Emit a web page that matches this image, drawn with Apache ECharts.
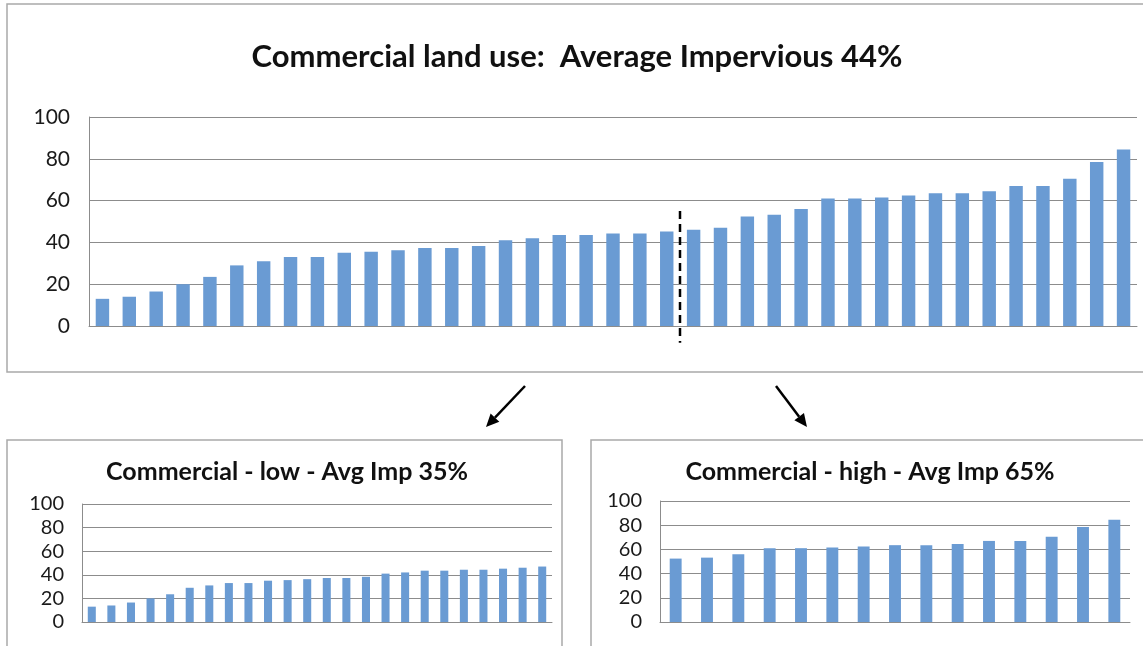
<!DOCTYPE html>
<html>
<head>
<meta charset="utf-8">
<script src="https://cdn.jsdelivr.net/npm/echarts@6/dist/echarts.min.js"></script>
<style>
  html, body { margin: 0; padding: 0; background: #fff; }
  #chart { width: 1143px; height: 646px; }
</style>
</head>
<body>
<div id="chart"></div>
<script>
// Percent impervious for each commercial site, sorted low to high
const sites = [
  13, 14, 16.5, 20, 23.5, 29, 31, 33, 33, 35, 35.5, 36.3,
  37.3, 37.3, 38.3, 41, 42, 43.5, 43.5, 44.3, 44.3, 45.2, 46, 47,
  52.4, 53.2, 56, 61, 61, 61.5, 62.5, 63.5, 63.5, 64.5, 67, 67, 70.5, 78.5, 84.5
];
// Split into the low and high impervious groups
const lowCount = 24;
const lowSites = sites.slice(0, lowCount);
const highSites = sites.slice(lowCount);
// The dashed divider sits between these two site positions
const dividerAfter = 21;

const yTicks = [0, 20, 40, 60, 80, 100];
const titles = [
  'Commercial land use:  Average Impervious 44%',
  'Commercial - low - Avg Imp 35%',
  'Commercial - high - Avg Imp 65%'
];

const FONT = 'Lato, "Open Sans", sans-serif';
const BAR = '#6a9bd3';
const GRIDLINE = '#8c8c8c';
const FRAME = '#a9a9a9';

const idx = arr => arr.map((_, i) => String(i + 1));

function yAxis(gridIndex, fontSize) {
  return {
    type: 'value', gridIndex, min: yTicks[0], max: yTicks[yTicks.length - 1], interval: 20,
    axisLine: { show: true, lineStyle: { color: GRIDLINE, width: 1 } },
    axisTick: { show: false },
    splitLine: { show: true, lineStyle: { color: GRIDLINE, width: 1 } },
    axisLabel: { color: '#1a1a1a', fontFamily: FONT, fontSize, margin: fontSize === 21 ? 19 : 18 }
  };
}
function xAxis(gridIndex, data) {
  return {
    type: 'category', gridIndex, data,
    axisLine: { show: true, lineStyle: { color: GRIDLINE, width: 1 } },
    axisTick: { show: false },
    axisLabel: { show: false }
  };
}
function bars(i, data, gap) {
  return {
    type: 'bar', xAxisIndex: i, yAxisIndex: i, data,
    barCategoryGap: gap, itemStyle: { color: BAR }, animation: false, silent: true
  };
}

const chart = echarts.init(document.getElementById('chart'), null, { renderer: 'canvas' });

chart.setOption({
  animation: false,
  title: [
    { text: titles[0], left: 572, top: 36, textAlign: 'center',
      textStyle: { fontFamily: FONT, fontWeight: 'bold', fontSize: 31, color: '#111' } },
    { text: titles[1], left: 282, top: 454, textAlign: 'center',
      textStyle: { fontFamily: FONT, fontWeight: 'bold', fontSize: 25, color: '#111' } },
    { text: titles[2], left: 865, top: 454, textAlign: 'center',
      textStyle: { fontFamily: FONT, fontWeight: 'bold', fontSize: 25, color: '#111' } }
  ],
  grid: [
    { left: 89, top: 117, width: 1048, height: 209 },
    { left: 82, top: 504, width: 470, height: 118 },
    { left: 660, top: 501, width: 470, height: 121 }
  ],
  xAxis: [xAxis(0, idx(sites)), xAxis(1, idx(lowSites)), xAxis(2, idx(highSites))],
  yAxis: [yAxis(0, 21), yAxis(1, 20), yAxis(2, 20)],
  series: [bars(0, sites, '50%'), bars(1, lowSites, '59%'), bars(2, highSites, '62%')]
});

// Frames, divider and arrows
function arrow(x1, y1, x2, y2) {
  const dx = x2 - x1, dy = y2 - y1, len = Math.hypot(dx, dy);
  const ux = dx / len, uy = dy / len;
  const head = 13, half = 6;
  const bx = x2 - ux * head, by = y2 - uy * head;
  return [
    { type: 'line', shape: { x1, y1, x2: bx, y2: by },
      style: { stroke: '#000', lineWidth: 2.5 }, silent: true },
    { type: 'polygon',
      shape: { points: [[x2, y2], [bx + uy * half, by - ux * half], [bx - uy * half, by + ux * half]] },
      style: { fill: '#000' }, silent: true }
  ];
}

const xa = chart.convertToPixel({ xAxisIndex: 0 }, String(dividerAfter + 1));
const xb = chart.convertToPixel({ xAxisIndex: 0 }, String(dividerAfter + 2));
const divX = Math.round((xa + xb) / 2);
const divTop = chart.convertToPixel({ yAxisIndex: 0 }, 55);
const divBottom = chart.convertToPixel({ yAxisIndex: 0 }, -8);

chart.setOption({
  graphic: [
    { type: 'rect', shape: { x: 7, y: 4, width: 1160, height: 368 },
      style: { fill: null, stroke: FRAME, lineWidth: 1.5 }, silent: true },
    { type: 'rect', shape: { x: 7, y: 440, width: 555, height: 230 },
      style: { fill: null, stroke: FRAME, lineWidth: 1.5 }, silent: true },
    { type: 'rect', shape: { x: 591, y: 440, width: 600, height: 230 },
      style: { fill: null, stroke: FRAME, lineWidth: 1.5 }, silent: true },
    { type: 'line', shape: { x1: divX, y1: divTop, x2: divX, y2: divBottom },
      style: { stroke: '#000', lineWidth: 2.5, lineDash: [8, 5] }, silent: true },
    ...arrow(525, 386, 486, 427),
    ...arrow(776, 386, 807, 427)
  ]
});
</script>
</body>
</html>
